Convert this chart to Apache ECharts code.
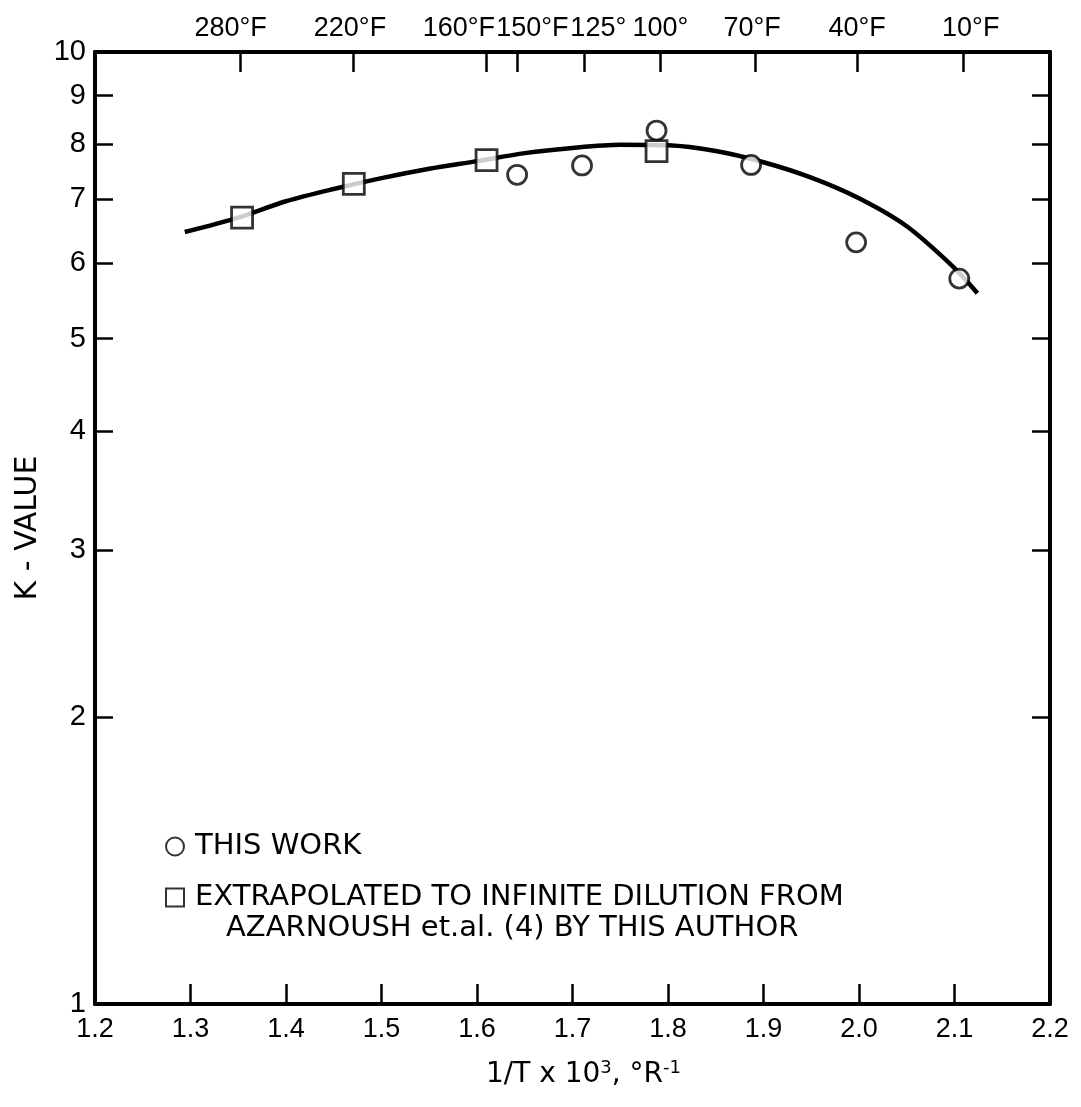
<!DOCTYPE html>
<html>
<head>
<meta charset="utf-8">
<script src="https://cdn.jsdelivr.net/npm/echarts@6/dist/echarts.min.js"></script>
<style>
  html, body { margin: 0; padding: 0; background: #fff; }
  #chart { width: 1081px; height: 1107px; }
</style>
</head>
<body>
<div id="chart"></div>
<script>
// Smoothed K-value curve, read along its length (x = 1/T x 10^3, °R^-1)
const curveX = [1.294, 1.35, 1.40, 1.45, 1.50, 1.55, 1.60, 1.65, 1.70, 1.75, 1.80, 1.85, 1.90, 1.95, 2.00, 2.05, 2.10, 2.124];
const curveK = [6.47, 6.70, 6.97, 7.18, 7.37, 7.54, 7.68, 7.83, 7.93, 7.99, 7.98, 7.87, 7.66, 7.38, 7.02, 6.56, 5.93, 5.58];

// Measured points (circles)
const workX = [1.642, 1.710, 1.788, 1.887, 1.997, 2.105];
const workK = [7.43, 7.60, 8.27, 7.61, 6.31, 5.78];

// Extrapolated points (squares)
const extrapX = [1.354, 1.471, 1.610, 1.788];
const extrapK = [6.70, 7.27, 7.70, 7.87];

// Bottom axis
const xTickValues = [1.2, 1.3, 1.4, 1.5, 1.6, 1.7, 1.8, 1.9, 2.0, 2.1, 2.2];
const xTickLabels = ['1.2', '1.3', '1.4', '1.5', '1.6', '1.7', '1.8', '1.9', '2.0', '2.1', '2.2'];

// Top temperature scale: tick positions, label centres and label text
const tempTickX = [1.352, 1.470, 1.610, 1.642, 1.712, 1.792, 1.891, 1.998, 2.109];
const tempLabelX = [1.342, 1.467, 1.581, 1.658, 1.727, 1.792, 1.888, 1.998, 2.117];
const tempLabels = ['280°F', '220°F', '160°F', '150°F', '125°', '100°', '70°F', '40°F', '10°F'];

// Log K axis
const kLabelValues = [1, 2, 3, 4, 5, 6, 7, 8, 9, 10];
const kTickValues = [2, 3, 4, 5, 6, 7, 8, 9];

const NUM_FONT = 'Liberation Sans';
const TEXT_FONT = 'DejaVu Sans';
const INK = '#000';

function nearestIndex(arr, v) {
  let best = 0;
  for (let i = 1; i < arr.length; i++) {
    if (Math.abs(arr[i] - v) < Math.abs(arr[best] - v)) best = i;
  }
  return best;
}

const zip = (xs, ys) => xs.map((x, i) => [x, ys[i]]);

const chart = echarts.init(document.getElementById('chart'), null, { renderer: 'canvas' });

chart.setOption({
  backgroundColor: '#fff',
  animation: false,
  grid: { left: 95, right: 31, top: 52, bottom: 103 },
  xAxis: [
    {
      type: 'value',
      position: 'bottom',
      min: 1.2, max: 2.2,
      name: '1/T x 10{sup|3}, °R{sup|-1}',
      nameLocation: 'middle',
      nameGap: 55,
      nameTextStyle: {
        fontFamily: TEXT_FONT, fontSize: 28, color: INK, padding: [0, 0, 0, 22],
        rich: { sup: { fontFamily: TEXT_FONT, fontSize: 18, color: INK, verticalAlign: 'top', padding: [0, 0, 14, 0] } }
      },
      axisLine: { show: true, onZero: false, lineStyle: { color: INK, width: 4 } },
      axisTick: { show: true, inside: true, length: 20, customValues: xTickValues, lineStyle: { color: INK, width: 2.5 } },
      axisLabel: {
        customValues: xTickValues,
        formatter: v => xTickLabels[nearestIndex(xTickValues, v)],
        margin: 12, fontFamily: NUM_FONT, fontSize: 27, color: INK
      },
      splitLine: { show: false }
    },
    {
      type: 'value',
      position: 'top',
      min: 1.2, max: 2.2,
      axisLine: { show: true, onZero: false, lineStyle: { color: INK, width: 4 } },
      axisTick: { show: true, inside: true, length: 20, customValues: tempTickX, lineStyle: { color: INK, width: 2.5 } },
      axisLabel: {
        customValues: tempLabelX,
        formatter: v => tempLabels[nearestIndex(tempLabelX, v)],
        margin: 10, fontFamily: NUM_FONT, fontSize: 27, color: INK
      },
      splitLine: { show: false }
    }
  ],
  yAxis: [
    {
      type: 'log',
      logBase: 10,
      position: 'left',
      min: 1, max: 10,
      name: 'K - VALUE',
      nameLocation: 'middle',
      nameGap: 52,
      nameTextStyle: { fontFamily: TEXT_FONT, fontSize: 30, color: INK },
      axisLine: { show: true, onZero: false, lineStyle: { color: INK, width: 4 } },
      axisTick: { show: true, inside: true, length: 18, customValues: kTickValues, lineStyle: { color: INK, width: 2.5 } },
      axisLabel: {
        customValues: kLabelValues,
        formatter: v => String(Math.round(v)),
        margin: 9, fontFamily: NUM_FONT, fontSize: 29, color: INK
      },
      splitLine: { show: false }
    },
    {
      type: 'log',
      logBase: 10,
      position: 'right',
      min: 1, max: 10,
      axisLine: { show: true, onZero: false, lineStyle: { color: INK, width: 4 } },
      axisTick: { show: true, inside: true, length: 18, customValues: kTickValues, lineStyle: { color: INK, width: 2.5 } },
      axisLabel: { show: false },
      splitLine: { show: false }
    }
  ],
  legend: {
    orient: 'vertical',
    left: 160,
    top: 827,
    itemGap: 22,
    itemWidth: 18,
    itemHeight: 18,
    data: ['THIS WORK', 'EXTRAPOLATED TO INFINITE DILUTION FROM'],
    textStyle: { fontFamily: TEXT_FONT, fontSize: 29, color: INK, padding: [0, 0, 0, 6] },
    selectedMode: false
  },
  graphic: [
    {
      type: 'text',
      left: 226,
      top: 914,
      style: { text: 'AZARNOUSH et.al. (4) BY THIS AUTHOR', fontFamily: TEXT_FONT, fontSize: 29, fill: INK }
    }
  ],
  series: [
    {
      name: 'curve',
      type: 'line',
      xAxisIndex: 0, yAxisIndex: 0,
      data: zip(curveX, curveK),
      smooth: 0.3,
      showSymbol: false,
      lineStyle: { color: INK, width: 4.5 },
      z: 2
    },
    {
      name: 'THIS WORK',
      type: 'scatter',
      xAxisIndex: 0, yAxisIndex: 0,
      data: zip(workX, workK),
      symbol: 'circle',
      symbolSize: 19,
      itemStyle: { color: '#fff', borderColor: INK, borderWidth: 2.8 },
      z: 3
    },
    {
      name: 'EXTRAPOLATED TO INFINITE DILUTION FROM',
      type: 'scatter',
      xAxisIndex: 0, yAxisIndex: 0,
      data: zip(extrapX, extrapK),
      symbol: 'rect',
      symbolSize: 21,
      itemStyle: { color: '#fff', borderColor: INK, borderWidth: 2.8 },
      z: 3
    }
  ]
});
</script>
</body>
</html>
